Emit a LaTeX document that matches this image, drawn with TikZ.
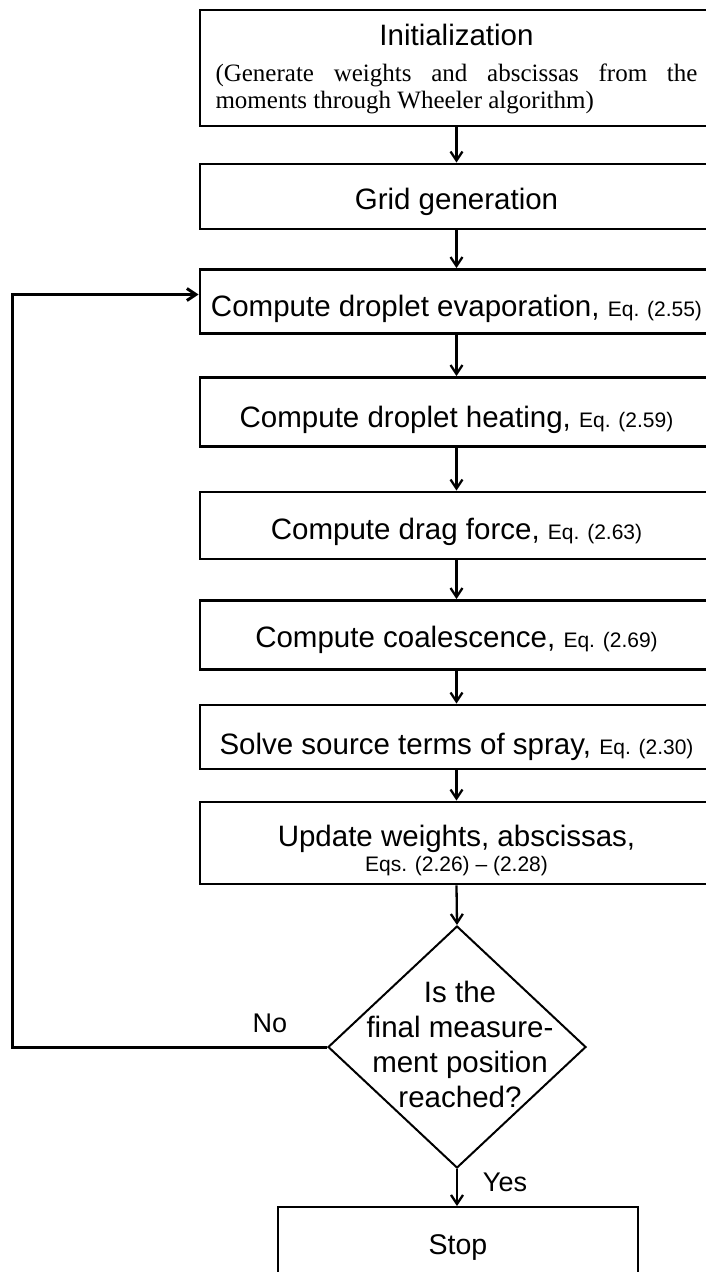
\documentclass[tikz,border=0pt]{standalone}
\usepackage{fontspec}
\setmainfont{Liberation Sans}
\newfontfamily\serifff{Liberation Serif}
\usetikzlibrary{shapes.geometric,arrows.meta}
\newcommand\eqsz{\fontsize{21}{22}\selectfont}
\begin{document}
\begin{tikzpicture}[x=1pt,y=-1pt,
  box/.style={draw, line width=2.8pt, minimum width=513pt, inner sep=0pt,
    font=\fontsize{29.5}{34}\selectfont},
  lowtext/.style={text height=#1, text depth=0pt},
  conn/.style={line width=2.3pt, -{Straight Barb[length=9pt,width=12pt]}},
  lbl/.style={font=\fontsize{27}{30}\selectfont, inner sep=0pt}]
\useasboundingbox (0,0) rectangle (705,1272);

\node[box, minimum height=116pt, text height=20pt, text depth=66pt] (init) at (456.5,68)
  {\parbox[t]{482pt}{{\centering\fontsize{29.5}{36}\selectfont Initialization\par}\vspace{9pt}%
   {\serifff\fontsize{25}{27}\selectfont (Generate weights and abscissas from the\linebreak moments through Wheeler algorithm)\par}}};
\node[box, minimum height=65pt, lowtext=25pt] (grid) at (456.5,196.5) {Grid generation};
\node[box, minimum height=64pt, lowtext=29pt] (evap) at (456.5,301.5) {Compute droplet evaporation, {\eqsz Eq. (2.55)}};
\node[box, minimum height=69pt, lowtext=31pt] (heat) at (456.5,412) {Compute droplet heating, {\eqsz Eq. (2.59)}};
\node[box, minimum height=67pt, lowtext=28pt] (drag) at (456.5,525.5) {Compute drag force, {\eqsz Eq. (2.63)}};
\node[box, minimum height=69pt, lowtext=24pt] (coal) at (456.5,635) {Compute coalescence, {\eqsz Eq. (2.69)}};
\node[box, minimum height=64pt, lowtext=34pt] (solve) at (456.5,737) {Solve source terms of spray, {\eqsz Eq. (2.30)}};
\node[box, minimum height=82pt, text height=20pt, text depth=14pt] (upd) at (456.5,843)
  {\parbox[t]{500pt}{\centering\fontsize{29.5}{25}\selectfont Update weights, abscissas,\\{\eqsz Eqs. (2.26) \textendash{} (2.28)}}};

\node[draw, diamond, line width=2pt, minimum width=258pt, minimum height=242pt, inner sep=0pt,
  label={[align=center, font=\fontsize{29.5}{35}\selectfont, xshift=3pt, yshift=3pt]center:Is the\\final measure-\\ment position\\reached?}] (dia) at (457,1047) {};
\node[draw, line width=2pt, minimum width=360pt, minimum height=80pt, font=\fontsize{28.5}{34}\selectfont] (stop) at (458,1247) {Stop};

\node[lbl] (no) at (270,1023) {No};
\node[lbl] (yes) at (505,1182) {Yes};

\coordinate (lb) at (12,1047);

\draw[conn] (init.south) -- (grid.north);
\draw[conn] (grid.south) -- (evap.north);
\draw[conn] (evap.south) -- (heat.north);
\draw[conn] (heat.south) -- (drag.north);
\draw[conn] (drag.south) -- (coal.north);
\draw[conn] (coal.south) -- (solve.north);
\draw[conn] (solve.south) -- (upd.north);
\draw[conn] (upd.south) -- (dia.north);
\draw[conn] (dia.south) -- (dia.south |- stop.north);
\draw[conn, line width=3pt] (dia.west) -- (lb) |- ([yshift=7pt]evap.west);
\end{tikzpicture}
\end{document}
